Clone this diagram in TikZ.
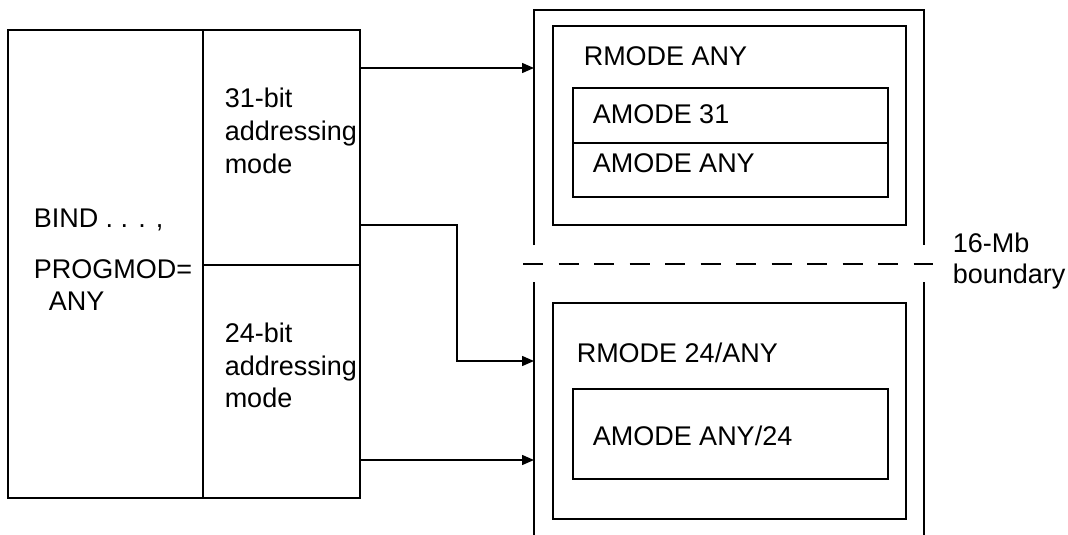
\documentclass[tikz,border=0pt]{standalone}
\usepackage{fontspec}
\setmainfont{Liberation Sans}
\usetikzlibrary{arrows.meta}
\begin{document}
\begin{tikzpicture}[x=1pt,y=-1pt,
  line width=1.5pt,
  cell/.style={draw, rectangle, inner sep=0pt},
  lbl/.style={anchor=base west, inner sep=0pt, font=\fontsize{27}{33}\selectfont},
  conn/.style={-{Triangle[length=12pt,width=10pt]}},
  boundary/.style={dash pattern=on 20pt off 15.5pt},
]
\useasboundingbox (0,0) rectangle (1068,535);

% program module with its two addressing-mode halves
\node[cell, minimum width=195pt, minimum height=468pt] (bind) at (105.5,264) {};
\node[cell, minimum width=157pt, minimum height=235pt] (m31) at (281.5,147.5) {};
\node[cell, minimum width=157pt, minimum height=233pt] (m24) at (281.5,381.5) {};

\node[lbl] (bindt) at (33,227) {BIND . . . ,};
\node[lbl] (progt) at (33,278) {PROGMOD=};
\node[lbl] (anyt)  at (48,310) {ANY};

\node[lbl] (t31a) at (224,107) {31-bit};
\node[lbl] (t31b) at (224,140) {addressing};
\node[lbl] (t31c) at (224,173) {mode};

\node[lbl] (t24a) at (224,342) {24-bit};
\node[lbl] (t24b) at (224,375) {addressing};
\node[lbl] (t24c) at (224,407) {mode};

% storage above the line
\draw (534,245) -- (534,10) -- (924,10) -- (924,245);
\node[cell, minimum width=353pt, minimum height=199pt] (rany) at (729.5,125.5) {};
\node[cell, minimum width=315pt, minimum height=55pt] (a31) at (730.5,115.5) {};
\node[cell, minimum width=315pt, minimum height=54pt] (aany) at (730.5,170) {};
\node[lbl] (ranyt) at (583,66) {RMODE ANY};
\node[lbl] (a31t)  at (592,123) {AMODE 31};
\node[lbl] (aanyt) at (592,172) {AMODE ANY};

% storage below the line
\draw (534,282) -- (534,535);
\draw (924,282) -- (924,535);
\node[cell, minimum width=353pt, minimum height=216pt] (r24) at (729.5,411) {};
\node[cell, minimum width=315pt, minimum height=90pt] (a24) at (730.5,434) {};
\node[lbl] (r24t) at (576,362) {RMODE 24/ANY};
\node[lbl] (a24t) at (592,445) {AMODE ANY/24};

% 16-Mb boundary
\coordinate (bl) at (523,264);
\coordinate (br) at (933,264);
\draw[boundary] (bl) -- (br);
\node[lbl] (bnd1) at (952,252) {16-Mb};
\node[lbl] (bnd2) at (952,283) {boundary};

% connectors
\coordinate (in1) at (534,68);
\coordinate (in2) at (534,361);
\coordinate (in3) at (534,460);
\coordinate (turn) at (457,225);
\draw[conn] (m31.east |- in1) -- (in1);
\draw[conn] (m31.east |- turn) -- (turn) |- (in2);
\draw[conn] (m24.east |- in3) -- (in3);
\end{tikzpicture}
\end{document}
